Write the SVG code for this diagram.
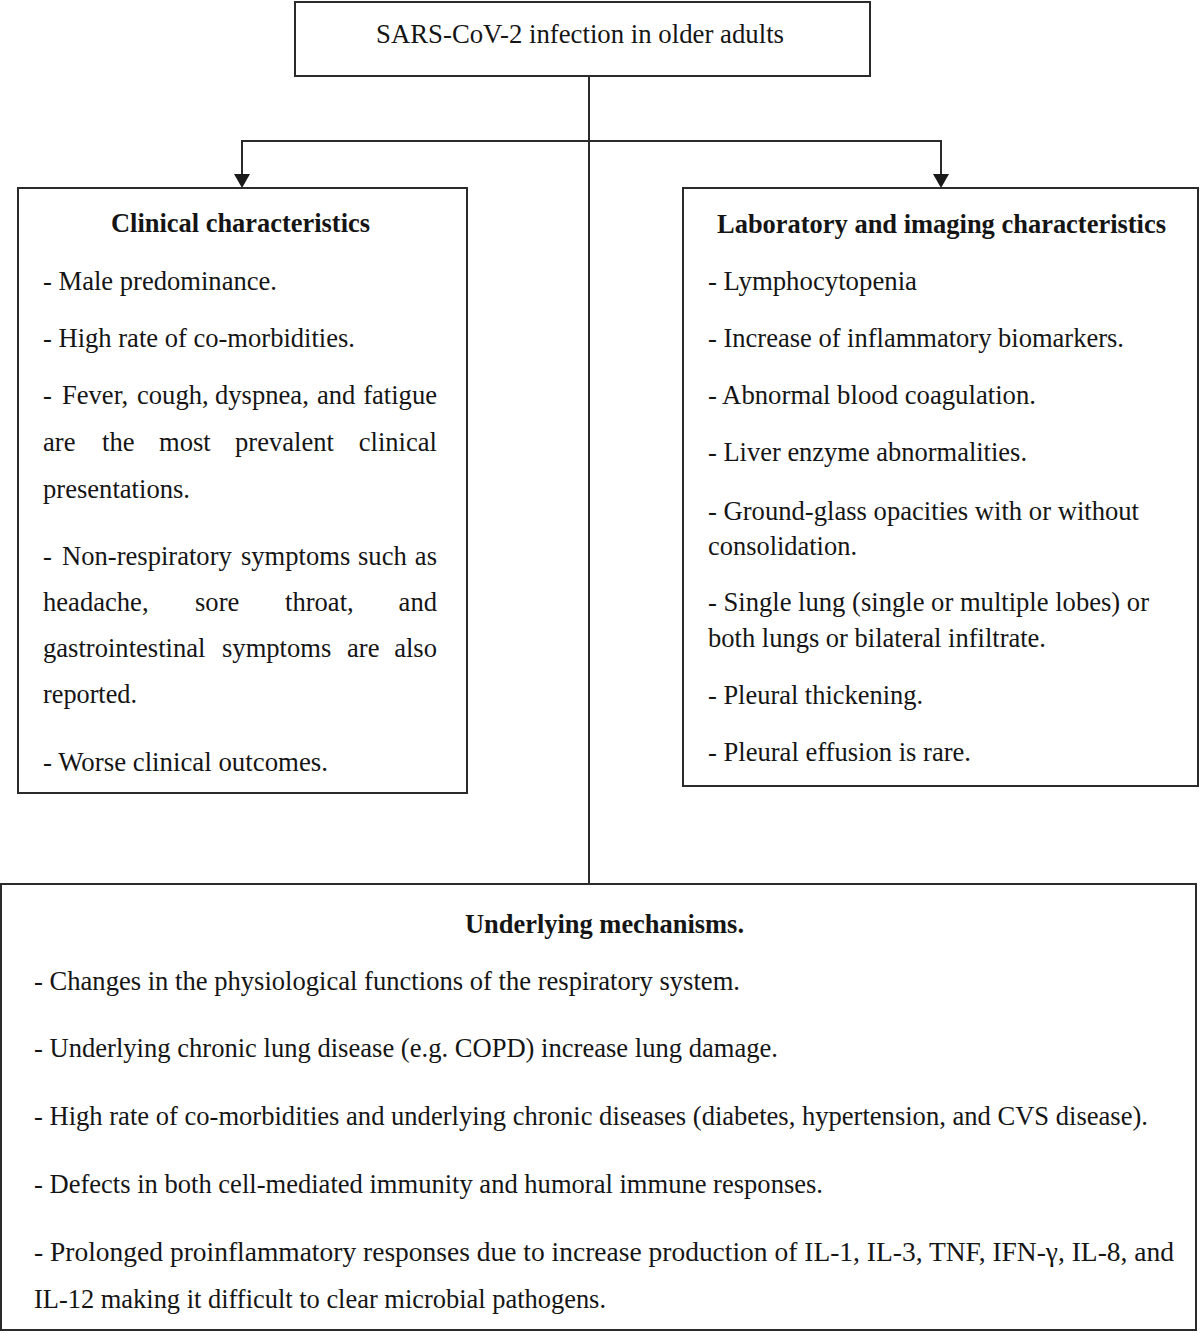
<svg xmlns="http://www.w3.org/2000/svg" width="1200" height="1333" viewBox="0 0 1200 1333">
<style>
.box{fill:#fff;stroke:#2b2b2b;stroke-width:2}
.t{font-family:"Liberation Serif","Times New Roman",serif;font-size:28px;fill:#151515}
.b{font-weight:bold}
.conn{stroke:#2b2b2b;stroke-width:2;fill:none}
.head{fill:#1a1a1a}
</style>
<rect width="1200" height="1333" fill="#fff"/>

<g id="connectors">
<line class="conn" x1="589" y1="76" x2="589" y2="884"/>
<line class="conn" x1="241" y1="141" x2="942" y2="141"/>
<line class="conn" x1="242" y1="141" x2="242" y2="174"/>
<line class="conn" x1="941" y1="141" x2="941" y2="174"/>
<path class="head" d="M234,174 L250,174 L242,188 Z"/>
<path class="head" d="M933,174 L949,174 L941,188 Z"/>
</g>

<g id="top">
<rect class="box" x="295" y="2" width="575" height="74"/>
<text class="t" x="376" y="43" textLength="408" lengthAdjust="spacingAndGlyphs">SARS-CoV-2 infection in older adults</text>
</g>

<g id="clinical">
<rect class="box" x="18" y="188" width="449" height="605"/>
<text class="t b" x="111" y="232" textLength="259" lengthAdjust="spacingAndGlyphs">Clinical characteristics</text>
<text class="t" x="43" y="290" textLength="234" lengthAdjust="spacingAndGlyphs">- Male predominance.</text>
<text class="t" x="43" y="347" textLength="312" lengthAdjust="spacingAndGlyphs">- High rate of co-morbidities.</text>
<text class="t" y="404" transform="scale(0.95 1)"><tspan x="45.26">-</tspan><tspan x="65.26">Fever,</tspan><tspan x="144.21">cough,</tspan><tspan x="226.32">dyspnea,</tspan><tspan x="333.68">and</tspan><tspan x="460" text-anchor="end">fatigue</tspan></text>
<text class="t" y="451" transform="scale(0.95 1)"><tspan x="45.26">are</tspan><tspan x="107.37">the</tspan><tspan x="167.37">most</tspan><tspan x="247.37">prevalent</tspan><tspan x="460" text-anchor="end">clinical</tspan></text>
<text class="t" x="43" y="498" textLength="147" lengthAdjust="spacingAndGlyphs">presentations.</text>
<text class="t" y="565" transform="scale(0.95 1)"><tspan x="45.26">-</tspan><tspan x="65.26">Non-respiratory</tspan><tspan x="253.68">symptoms</tspan><tspan x="376.84">such</tspan><tspan x="460" text-anchor="end">as</tspan></text>
<text class="t" y="611" transform="scale(0.95 1)"><tspan x="45.26">headache,</tspan><tspan x="205.26">sore</tspan><tspan x="300">throat,</tspan><tspan x="460" text-anchor="end">and</tspan></text>
<text class="t" y="657" transform="scale(0.95 1)"><tspan x="45.26">gastrointestinal</tspan><tspan x="233.68">symptoms</tspan><tspan x="365.26">are</tspan><tspan x="460" text-anchor="end">also</tspan></text>
<text class="t" x="43" y="703" textLength="94" lengthAdjust="spacingAndGlyphs">reported.</text>
<text class="t" x="43" y="771" textLength="285" lengthAdjust="spacingAndGlyphs">- Worse clinical outcomes.</text>
</g>

<g id="laboratory">
<rect class="box" x="683" y="188" width="515" height="598"/>
<text class="t b" x="717" y="233" textLength="449" lengthAdjust="spacingAndGlyphs">Laboratory and imaging characteristics</text>
<text class="t" x="708" y="290" textLength="209" lengthAdjust="spacingAndGlyphs">- Lymphocytopenia</text>
<text class="t" x="708" y="347" textLength="416" lengthAdjust="spacingAndGlyphs">- Increase of inflammatory biomarkers.</text>
<text class="t" x="708" y="404" textLength="328" lengthAdjust="spacingAndGlyphs">- Abnormal blood coagulation.</text>
<text class="t" x="708" y="461" textLength="319" lengthAdjust="spacingAndGlyphs">- Liver enzyme abnormalities.</text>
<text class="t" x="708" y="520" textLength="431" lengthAdjust="spacingAndGlyphs">- Ground-glass opacities with or without</text>
<text class="t" x="708" y="555" textLength="149" lengthAdjust="spacingAndGlyphs">consolidation.</text>
<text class="t" x="708" y="611" textLength="441" lengthAdjust="spacingAndGlyphs">- Single lung (single or multiple lobes) or</text>
<text class="t" x="708" y="647" textLength="338" lengthAdjust="spacingAndGlyphs">both lungs or bilateral infiltrate.</text>
<text class="t" x="708" y="704" textLength="215" lengthAdjust="spacingAndGlyphs">- Pleural thickening.</text>
<text class="t" x="708" y="761" textLength="263" lengthAdjust="spacingAndGlyphs">- Pleural effusion is rare.</text>
</g>

<g id="mechanisms">
<rect class="box" x="1" y="884" width="1195" height="446"/>
<text class="t b" x="465" y="933" textLength="279" lengthAdjust="spacingAndGlyphs">Underlying mechanisms.</text>
<text class="t" x="34" y="990" textLength="706" lengthAdjust="spacingAndGlyphs">- Changes in the physiological functions of the respiratory system.</text>
<text class="t" x="34" y="1057" textLength="744" lengthAdjust="spacingAndGlyphs">- Underlying chronic lung disease (e.g. COPD) increase lung damage.</text>
<text class="t" x="34" y="1125" textLength="1114" lengthAdjust="spacingAndGlyphs" style="font-size:27px">- High rate of co-morbidities and underlying chronic diseases (diabetes, hypertension, and CVS disease).</text>
<text class="t" x="34" y="1193" textLength="789" lengthAdjust="spacingAndGlyphs">- Defects in both cell-mediated immunity and humoral immune responses.</text>
<text class="t" x="34" y="1261" textLength="1140" lengthAdjust="spacingAndGlyphs">- Prolonged proinflammatory responses due to increase production of IL-1, IL-3, TNF, IFN-γ, IL-8, and</text>
<text class="t" x="34" y="1308" textLength="572" lengthAdjust="spacingAndGlyphs">IL-12 making it difficult to clear microbial pathogens.</text>
</g>
</svg>
